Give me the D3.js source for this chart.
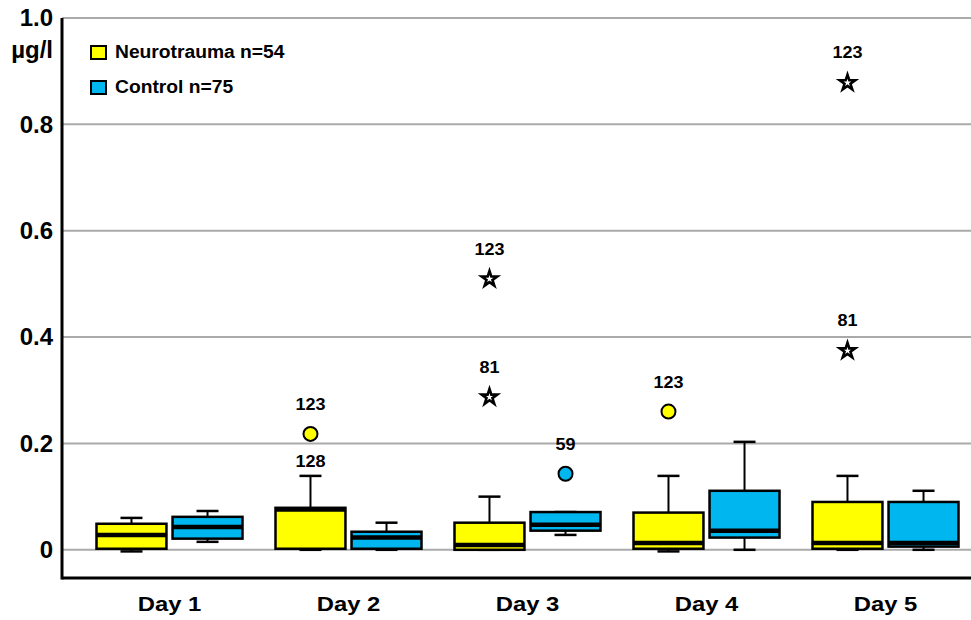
<!DOCTYPE html>
<html>
<head>
<meta charset="utf-8">
<script src="https://cdn.jsdelivr.net/npm/d3@7"></script>
<style>
  body { margin: 0; background: #fff; }
  text { font-family: "Liberation Sans", Arial, sans-serif; font-weight: bold; }
</style>
</head>
<body>
<svg id="chart" width="971" height="620"></svg>
<script>
const days = ["Day 1", "Day 2", "Day 3", "Day 4", "Day 5"];
const groups = ["Neurotrauma n=54", "Control n=75"];
const colors = ["#ffff00", "#00b6ef"];

// box statistics per day, µg/l
const neuroMin = [-0.003, 0.0, 0.0, -0.003, 0.0];
const neuroQ1 = [0.002, 0.002, 0.0, 0.002, 0.002];
const neuroMed = [0.028, 0.076, 0.009, 0.013, 0.013];
const neuroQ3 = [0.049, 0.079, 0.051, 0.070, 0.090];
const neuroMax = [0.060, 0.139, 0.100, 0.139, 0.139];

const ctrlMin = [0.015, 0.0, 0.028, 0.0, 0.0];
const ctrlQ1 = [0.021, 0.002, 0.036, 0.023, 0.006];
const ctrlMed = [0.043, 0.023, 0.047, 0.036, 0.013];
const ctrlQ3 = [0.062, 0.034, 0.071, 0.111, 0.090];
const ctrlMax = [0.073, 0.051, 0.071, 0.203, 0.111];

// outliers / extremes: [day index, group index, value, label, shape]
const outliers = [
  [1, 0, 0.218, "123", "circle"],
  [1, 0, 0.139, "128", "none"],
  [2, 0, 0.511, "123", "star"],
  [2, 0, 0.289, "81", "star"],
  [2, 1, 0.143, "59", "circle"],
  [3, 0, 0.260, "123", "circle"],
  [4, 0, 0.880, "123", "star"],
  [4, 0, 0.376, "81", "star"]
];

const yTicks = [0, 0.2, 0.4, 0.6, 0.8, 1.0];
const yTickLabels = ["0", "0.2", "0.4", "0.6", "0.8", "1.0"];

const svg = d3.select("#chart");
const plotLeft = 62, plotRight = 971, plotTop = 18, plotBottom = 578;

const y = d3.scaleLinear().domain([-0.053, 1.0]).range([plotBottom, plotTop]);
const x = d3.scaleBand().domain(days).range([80, 975]);
const sub = d3.scaleBand().domain([0, 1]).range([x.bandwidth() / 2 - 73, x.bandwidth() / 2 + 73]).paddingInner(0.08);

// text helper: the original lettering is a bit wider than Liberation Sans
function label(sel, tx, ty, str, size, anchor, sx) {
  return sel.append("text")
    .attr("transform", `translate(${tx},${ty}) scale(${sx},1)`)
    .attr("text-anchor", anchor)
    .attr("dominant-baseline", "middle")
    .attr("font-size", size)
    .text(str);
}

// gridlines
svg.append("g")
  .selectAll("line")
  .data(yTicks)
  .join("line")
  .attr("x1", plotLeft).attr("x2", plotRight)
  .attr("y1", d => y(d)).attr("y2", d => y(d))
  .attr("stroke", "#aaaaaa")
  .attr("stroke-width", 2);

// y tick labels
const tg = svg.append("g");
yTicks.forEach((d, i) => label(tg, 53, y(d) + 2, yTickLabels[i], 24, "end", 1));
label(tg, 53, 52, "µg/l", 24, "end", 1);

// axis lines
svg.append("line")
  .attr("x1", plotLeft).attr("x2", plotLeft).attr("y1", plotTop).attr("y2", plotBottom + 1.5)
  .attr("stroke", "#000").attr("stroke-width", 3);
svg.append("line")
  .attr("x1", plotLeft).attr("x2", plotRight).attr("y1", plotBottom).attr("y2", plotBottom)
  .attr("stroke", "#000").attr("stroke-width", 3);

// day labels
const dg = svg.append("g");
days.forEach(d => label(dg, x(d) + x.bandwidth() / 2, 606, d, 20, "middle", 1.19));

// boxes
const stats = [
  [neuroMin, neuroQ1, neuroMed, neuroQ3, neuroMax],
  [ctrlMin, ctrlQ1, ctrlMed, ctrlQ3, ctrlMax]
];
const boxes = [];
days.forEach((d, i) => {
  [0, 1].forEach(g => {
    const s = stats[g];
    boxes.push({ day: d, g, min: s[0][i], q1: s[1][i], med: s[2][i], q3: s[3][i], max: s[4][i] });
  });
});

const capW = 22;
const bg = svg.append("g");
boxes.forEach(b => {
  const x0 = x(b.day) + sub(b.g);
  const w = sub.bandwidth();
  const cx = x0 + w / 2;
  const g = bg.append("g");
  // whiskers
  g.append("line").attr("x1", cx).attr("x2", cx).attr("y1", y(b.max)).attr("y2", y(b.q3))
    .attr("stroke", "#000").attr("stroke-width", 2);
  g.append("line").attr("x1", cx).attr("x2", cx).attr("y1", y(b.q1)).attr("y2", y(b.min))
    .attr("stroke", "#000").attr("stroke-width", 2);
  g.append("line").attr("x1", cx - capW / 2).attr("x2", cx + capW / 2).attr("y1", y(b.max)).attr("y2", y(b.max))
    .attr("stroke", "#000").attr("stroke-width", 2.5);
  g.append("line").attr("x1", cx - capW / 2).attr("x2", cx + capW / 2).attr("y1", y(b.min)).attr("y2", y(b.min))
    .attr("stroke", "#000").attr("stroke-width", 2.5);
  g.append("rect")
    .attr("x", x0).attr("width", w)
    .attr("y", y(b.q3)).attr("height", y(b.q1) - y(b.q3))
    .attr("fill", colors[b.g])
    .attr("stroke", "#000").attr("stroke-width", 2.5);
  g.append("line").attr("x1", x0).attr("x2", x0 + w).attr("y1", y(b.med)).attr("y2", y(b.med))
    .attr("stroke", "#000").attr("stroke-width", 4.5);
});

// outliers
const og = svg.append("g");
const star = d3.symbol().type(d3.symbolStar).size(75);
outliers.forEach(([di, g, v, lab, shape]) => {
  const cx = x(days[di]) + sub(g) + sub.bandwidth() / 2;
  const cy = y(v);
  if (shape === "circle") {
    og.append("circle").attr("cx", cx).attr("cy", cy).attr("r", 7)
      .attr("fill", colors[g]).attr("stroke", "#000").attr("stroke-width", 2);
  } else if (shape === "star") {
    og.append("path").attr("d", star()).attr("transform", `translate(${cx},${cy + 1})`)
      .attr("fill", "#fff").attr("stroke", "#000").attr("stroke-width", 2.6)
      .attr("stroke-linejoin", "miter");
  }
  label(og, cx, cy - (shape === "none" ? 13 : 28), lab, 17, "middle", 1.06);
});

// legend
const lg = svg.append("g").attr("transform", "translate(91,46)");
groups.forEach((name, i) => {
  lg.append("rect").attr("x", 0).attr("y", i * 35).attr("width", 15).attr("height", 13)
    .attr("fill", colors[i]).attr("stroke", "#000").attr("stroke-width", 2);
  label(lg, 24, i * 35 + 7, name, 18, "start", 1.07);
});
</script>
</body>
</html>
